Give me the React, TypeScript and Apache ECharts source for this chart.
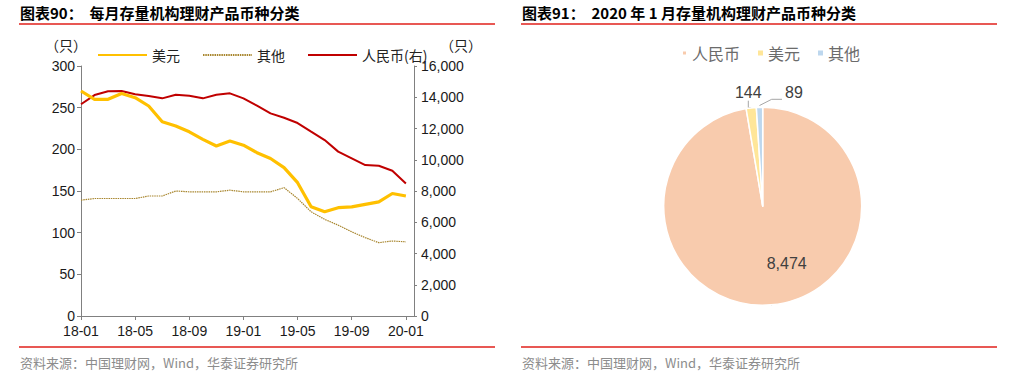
import React, { useEffect, useRef } from "react";
import * as echarts from "echarts";

const months = [
  "18-01","18-02","18-03","18-04","18-05","18-06","18-07","18-08","18-09","18-10","18-11","18-12",
  "19-01","19-02","19-03","19-04","19-05","19-06","19-07","19-08","19-09","19-10","19-11","19-12","20-01",
];
const usd = [270, 260, 260, 267, 262, 252, 233, 228, 221, 212, 204, 210, 205, 196, 189, 178, 160, 131, 125, 130, 131, 134, 137, 147, 144];
const other = [139, 141, 141, 141, 141, 144, 144, 150, 149, 149, 149, 151, 149, 149, 149, 154, 141, 125, 116, 109, 101, 94, 88, 90, 89];
const rmb = [13550, 14140, 14380, 14400, 14190, 14080, 13930, 14160, 14100, 13930, 14160, 14250, 13930, 13460, 12970, 12690, 12350, 11800, 11260, 10520, 10090, 9660, 9620, 9300, 8474];
const tickIdx = [0, 4, 8, 12, 16, 20, 24];

const pieNames = ["人民币", "美元", "其他"];
const pieValues = [8474, 144, 89];
const pieColors = ["#F8CBAD", "#FFE699", "#BDD7EE"];

const FONT = "'Liberation Sans', Arial, 'Noto Sans CJK SC', sans-serif";
const CJK = "'Noto Sans CJK SC', 'Liberation Sans', sans-serif";

export default function App() {
  const ref = useRef<HTMLDivElement>(null);
  useEffect(() => {
    document.body.style.margin = "0";
    const chart = echarts.init(ref.current!, null, { renderer: "svg" });
    const fmt = (v: number) => v.toLocaleString("en-US");
    chart.setOption({
      animation: false,
      textStyle: { fontFamily: FONT },
      legend: [
        {
          left: 92,
          top: 43,
          itemWidth: 49,
          itemHeight: 14,
          itemGap: 22,
          itemStyle: { opacity: 0 },
          data: ["美元", "其他", "人民币(右)"],
          textStyle: { fontFamily: CJK, fontSize: 14, color: "#222" },
        },
        {
          left: 676,
          top: 40,
          icon: "rect",
          itemWidth: 5,
          itemHeight: 5,
          itemGap: 18,
          data: pieNames.map((n, i) => ({ name: n, itemStyle: { color: pieColors[i] } })),
          textStyle: { fontFamily: CJK, fontSize: 16, color: "#6b6b6b" },
        },
      ],
      grid: { left: 81, top: 66, width: 333, height: 250 },
      xAxis: {
        type: "value",
        min: 0,
        max: 24.6,
        interval: 4,
        splitLine: { show: false },
        axisLine: { show: true, lineStyle: { color: "#808080" } },
        axisTick: { show: true, length: 4, lineStyle: { color: "#808080" }, customValues: tickIdx },
        axisLabel: {
          customValues: tickIdx,
          margin: 8,
          fontSize: 14,
          color: "#1a1a1a",
          formatter: (v: number) => (Number.isInteger(v) && months[v] ? months[v] : ""),
        },
      },
      yAxis: [
        {
          type: "value",
          min: 0,
          max: 300,
          interval: 50,
          name: "（只）",
          nameLocation: "end",
          nameGap: 14,
          nameTextStyle: { fontFamily: CJK, fontSize: 14, color: "#222", align: "center", padding: [0, 30, 0, 0] },
          splitLine: { show: false },
          axisLine: { show: true, lineStyle: { color: "#808080" } },
          axisTick: { show: true, length: 4, lineStyle: { color: "#808080" } },
          axisLabel: { margin: 6, fontSize: 14, color: "#1a1a1a" },
        },
        {
          type: "value",
          position: "right",
          min: 0,
          max: 16000,
          interval: 2000,
          name: "（只）",
          nameLocation: "end",
          nameGap: 14,
          nameTextStyle: { fontFamily: CJK, fontSize: 14, color: "#222", align: "left", padding: [0, 0, 0, 26] },
          splitLine: { show: false },
          axisLine: { show: true, lineStyle: { color: "#808080" } },
          axisTick: { show: true, length: 3, lineStyle: { color: "#808080" } },
          axisLabel: { margin: 7, fontSize: 14, color: "#1a1a1a", formatter: fmt },
        },
      ],
      series: [
        {
          name: "美元",
          type: "line",
          yAxisIndex: 0,
          symbol: "none",
          data: usd.map((v, i) => [i, v]),
          lineStyle: { color: "#FFC000", width: 3.2 },
          itemStyle: { color: "#FFC000" },
          z: 3,
        },
        {
          name: "其他",
          type: "line",
          yAxisIndex: 0,
          symbol: "none",
          data: other.map((v, i) => [i, v]),
          lineStyle: { color: "#A8862E", width: 1.2, type: [1.5, 0.8] },
          itemStyle: { color: "#A8862E" },
          z: 2,
        },
        {
          name: "人民币(右)",
          type: "line",
          yAxisIndex: 1,
          symbol: "none",
          data: rmb.map((v, i) => [i, v]),
          lineStyle: { color: "#C00000", width: 2 },
          itemStyle: { color: "#C00000" },
          z: 2,
        },
        {
          type: "pie",
          center: [762.7, 206.2],
          radius: 99,
          startAngle: 90,
          clockwise: true,
          data: pieNames.map((n, i) => ({ name: n, value: pieValues[i], itemStyle: { color: pieColors[i] } })),
          itemStyle: { borderColor: "#fff", borderWidth: 1.5 },
          label: {
            show: true,
            fontSize: 16,
            color: "#404040",
            fontFamily: FONT,
            formatter: (p: any) => fmt(p.value),
          },
          labelLine: { show: true, lineStyle: { color: "#A6A6A6", width: 1 } },
          labelLayout: (p: any) => {
            if (p.dataIndex === 0) return { x: 786.7, y: 263.3, align: "center", verticalAlign: "middle" };
            if (p.dataIndex === 1) return { x: 748.3, y: 92.7, align: "center", verticalAlign: "middle" };
            return {
              x: 794,
              y: 92.7,
              align: "center",
              verticalAlign: "middle",
              labelLinePoints: [[759.5, 105.5], [771.7, 99.3], [782, 99.3]],
            };
          },
          emphasis: { disabled: true },
        },
      ],
      graphic: [
        { type: "text", left: 20, top: 5, style: { text: "图表90：  每月存量机构理财产品币种分类", font: `bold 15px ${CJK}`, fill: "#000" } },
        { type: "line", shape: { x1: 19, y1: 24, x2: 495, y2: 24 }, style: { stroke: "#E0201B", lineWidth: 1.5 } },
        { type: "text", left: 522, top: 5, style: { text: "图表91：  2020 年 1 月存量机构理财产品币种分类", font: `bold 15px ${CJK}`, fill: "#000" } },
        { type: "line", shape: { x1: 521, y1: 24, x2: 997, y2: 24 }, style: { stroke: "#E0201B", lineWidth: 1.5 } },
        { type: "line", shape: { x1: 19, y1: 347, x2: 495, y2: 347 }, style: { stroke: "#E0201B", lineWidth: 1.5 } },
        { type: "line", shape: { x1: 521, y1: 347, x2: 997, y2: 347 }, style: { stroke: "#E0201B", lineWidth: 1.5 } },
        { type: "text", left: 20, top: 356, style: { text: "资料来源：中国理财网，Wind，华泰证券研究所", font: `13px ${CJK}`, fill: "#8C8C8C" } },
        { type: "text", left: 522, top: 356, style: { text: "资料来源：中国理财网，Wind，华泰证券研究所", font: `13px ${CJK}`, fill: "#8C8C8C" } },
      ],
    });
    return () => chart.dispose();
  }, []);
  return <div ref={ref} style={{ width: 1012, height: 388 }} />;
}
